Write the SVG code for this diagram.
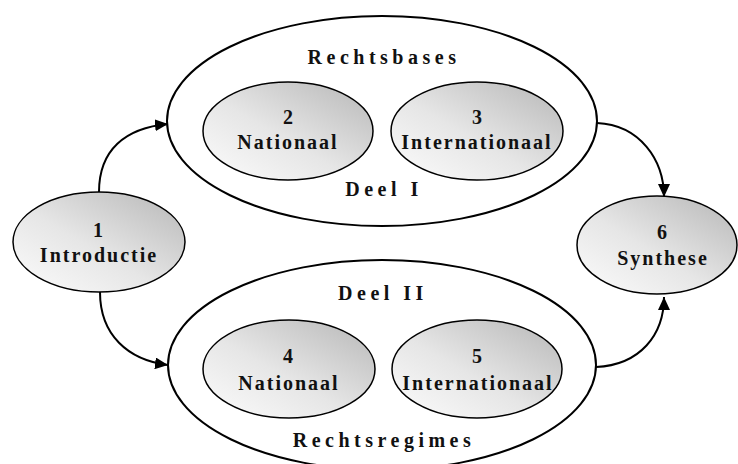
<svg xmlns="http://www.w3.org/2000/svg" width="738" height="464" viewBox="0 0 738 464">
  <style>
    .frame { fill: none; stroke: #000; stroke-width: 2; }
    .node { fill: url(#shade); stroke: #000; stroke-width: 1.5; }
    .num { font-family: "Liberation Serif", "Times New Roman", serif; font-weight: bold; font-size: 20px; fill: #111; text-anchor: middle; }
    .lbl { font-family: "Liberation Serif", "Times New Roman", serif; font-weight: bold; font-size: 20px; fill: #111; text-anchor: middle; letter-spacing: 2px; }
    .title { font-family: "Liberation Serif", "Times New Roman", serif; font-weight: bold; font-size: 20px; fill: #111; text-anchor: middle; letter-spacing: 4.5px; }
    .link { fill: none; stroke: #000; stroke-width: 2; marker-end: url(#arrow); }
  </style>
  <defs>
    <linearGradient id="shade" x1="0" y1="1" x2="1" y2="0">
      <stop offset="0" stop-color="#fcfcfc"/>
      <stop offset="0.45" stop-color="#e6e6e6"/>
      <stop offset="1" stop-color="#b6b6b6"/>
    </linearGradient>
    <marker id="arrow" markerUnits="userSpaceOnUse" markerWidth="14" markerHeight="12" refX="13" refY="6" orient="auto">
      <path d="M0,0 L13,6 L0,12 Z" fill="#000"/>
    </marker>
  </defs>

  <!-- connectors -->
  <g id="connectors">
    <path class="link" d="M99,192 C99,150 125,128 168,124"/>
    <path class="link" d="M100,292 C100,335 128,360 168,365"/>
    <path class="link" d="M597,123 C640,125 664,160 664,197"/>
    <path class="link" d="M596,367 C640,365 664,335 664,297"/>
  </g>

  <!-- part I: legal bases -->
  <g id="deel1">
    <ellipse class="frame" cx="382" cy="121" rx="215" ry="105"/>
    <text class="title" x="384" y="64">Rechtsbases</text>
    <text class="title" x="384" y="196">Deel I</text>
  </g>

  <!-- part II: legal regimes -->
  <g id="deel2">
    <ellipse class="frame" cx="382" cy="365" rx="214" ry="105"/>
    <text class="title" x="383" y="300">Deel II</text>
    <text class="title" x="384" y="447">Rechtsregimes</text>
  </g>

  <g id="n1">
    <ellipse class="node" cx="99" cy="242" rx="86" ry="50"/>
    <text class="num" x="98" y="237">1</text>
    <text class="lbl" x="99" y="262">Introductie</text>
  </g>

  <g id="n2">
    <ellipse class="node" cx="288" cy="131" rx="85" ry="49"/>
    <text class="num" x="288" y="124">2</text>
    <text class="lbl" x="288" y="149">Nationaal</text>
  </g>

  <g id="n3">
    <ellipse class="node" cx="477" cy="131" rx="86" ry="49"/>
    <text class="num" x="477" y="124">3</text>
    <text class="lbl" x="477" y="149">Internationaal</text>
  </g>

  <g id="n4">
    <ellipse class="node" cx="289" cy="369" rx="86" ry="49"/>
    <text class="num" x="288" y="363">4</text>
    <text class="lbl" x="289" y="390">Nationaal</text>
  </g>

  <g id="n5">
    <ellipse class="node" cx="477" cy="369" rx="85" ry="49"/>
    <text class="num" x="477" y="363">5</text>
    <text class="lbl" x="478" y="390">Internationaal</text>
  </g>

  <g id="n6">
    <ellipse class="node" cx="657" cy="245" rx="80" ry="49"/>
    <text class="num" x="662" y="239">6</text>
    <text class="lbl" x="663" y="265">Synthese</text>
  </g>
</svg>
